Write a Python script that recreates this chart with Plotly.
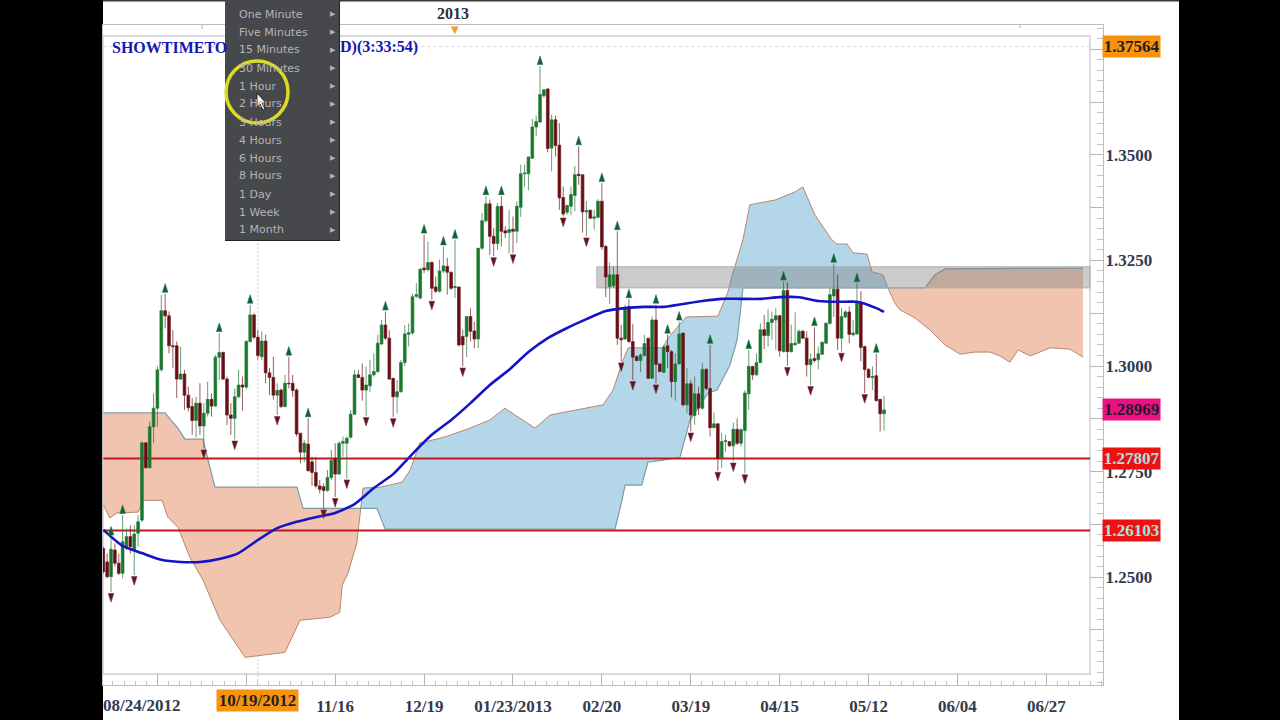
import plotly.graph_objects as go

open_ = [
1.2568,1.2536,1.2501,1.2564,1.2533,1.2509,1.2572,1.2596,1.2564,1.2604,
1.2635,1.2818,1.2759,1.2856,1.2900,1.2991,1.3131,1.3119,1.3048,1.3048,
1.2969,1.2981,1.2931,1.2904,1.2871,1.2912,1.2858,1.2888,1.2921,1.2905,
1.3021,1.3032,1.2969,1.2884,1.2876,1.2927,1.2955,1.2950,1.3058,1.3121,
1.3068,1.3022,1.3059,1.2984,1.2973,1.2931,1.2943,1.2904,1.2959,1.2959,
1.2943,1.2841,1.2796,1.2815,1.2773,1.2748,1.2716,1.2714,1.2705,1.2736,
1.2781,1.2744,1.2817,1.2817,1.2831,1.2886,1.2979,1.2973,1.2943,1.2953,
1.2979,1.2987,1.3052,1.3097,1.3066,1.2971,1.2927,1.2939,1.3008,1.3075,
1.3078,1.3165,1.3161,1.3232,1.3228,1.3245,1.3187,1.3177,1.3225,1.3236,
1.3222,1.3186,1.3187,1.3070,1.3070,1.3117,1.3083,1.3064,1.3279,1.3344,
1.3384,1.3307,1.3290,1.3378,1.3320,1.3316,1.3324,1.3319,1.3376,1.3455,
1.3455,1.3492,1.3566,1.3578,1.3640,1.3656,1.3516,1.3583,1.3523,1.3399,
1.3364,1.3378,1.3404,1.3454,1.3453,1.3365,1.3369,1.3350,1.3352,1.3390,
1.3283,1.3188,1.3190,1.3216,1.3066,1.3064,1.3141,1.3058,1.3022,1.3013,
1.3025,1.3066,1.2971,1.3109,1.3005,1.2985,1.3048,1.3034,1.2963,1.3005,
1.3078,1.2908,1.2958,1.2883,1.2934,1.2900,1.2992,1.2947,1.2854,1.2863,
1.2782,1.2821,1.2821,1.2811,1.2850,1.2817,1.2847,1.2934,1.2999,1.2979,
1.3008,1.3086,1.3072,1.3103,1.3109,1.3119,1.3034,1.3179,1.3034,1.3050,
1.3054,1.3082,1.3066,1.3003,1.3018,1.3015,1.3028,1.3054,1.3101,1.3166,
1.3182,1.3066,1.3116,1.3128,1.3074,1.3076,1.3150,1.3046,1.2992,1.2973,
1.2977,1.2921,1.2887]
high = [
1.2572,1.2556,1.2596,1.2580,1.2556,1.2647,1.2615,1.2623,1.2623,1.2647,
1.2821,1.2820,1.2868,1.2935,1.3000,1.3168,1.3171,1.3129,1.3085,1.3058,
1.3046,1.2991,1.2951,1.2924,1.2927,1.2959,1.2912,1.2963,1.2935,1.3026,
1.3078,1.3034,1.2975,1.2912,1.2947,1.2991,1.2975,1.3062,1.3145,1.3125,
1.3085,1.3082,1.3074,1.2995,1.3022,1.2959,1.2947,1.2979,1.3022,1.2979,
1.2947,1.2841,1.2825,1.2876,1.2785,1.2785,1.2730,1.2722,1.2754,1.2801,
1.2817,1.2821,1.2833,1.2833,1.2896,1.2991,1.2991,1.3006,1.2999,1.3014,
1.3030,1.3074,1.3109,1.3129,1.3085,1.2971,1.2967,1.3014,1.3097,1.3101,
1.3171,1.3196,1.3232,1.3311,1.3295,1.3248,1.3212,1.3252,1.3283,1.3256,
1.3224,1.3299,1.3188,1.3086,1.3117,1.3137,1.3105,1.3279,1.3362,1.3402,
1.3394,1.3327,1.3386,1.3402,1.3331,1.3370,1.3354,1.3390,1.3477,1.3477,
1.3496,1.3585,1.3593,1.3710,1.3656,1.3658,1.3595,1.3593,1.3575,1.3425,
1.3382,1.3425,1.3474,1.3520,1.3453,1.3391,1.3370,1.3370,1.3395,1.3433,
1.3287,1.3245,1.3236,1.3319,1.3098,1.3145,1.3158,1.3100,1.3026,1.3030,
1.3074,1.3066,1.3117,1.3145,1.3007,1.3050,1.3074,1.3038,1.3030,1.3105,
1.3078,1.2995,1.2967,1.2975,1.2951,1.3007,1.2995,1.3050,1.2890,1.2864,
1.2842,1.2837,1.2821,1.2866,1.2876,1.2853,1.2943,1.3038,1.3000,1.3030,
1.3101,1.3121,1.3135,1.3129,1.3137,1.3121,1.3200,1.3198,1.3098,1.3127,
1.3087,1.3086,1.3082,1.3030,1.3092,1.3046,1.3058,1.3103,1.3184,1.3242,
1.3216,1.3137,1.3133,1.3141,1.3109,1.3196,1.3177,1.3048,1.2995,1.2999,
1.3029,1.2921,1.2929]
low = [
1.2509,1.2497,1.2465,1.2525,1.2505,1.2497,1.2564,1.2556,1.2505,1.2572,
1.2631,1.2758,1.2758,1.2817,1.2856,1.2987,1.3089,1.3030,1.2995,1.2924,
1.2967,1.2896,1.2892,1.2837,1.2831,1.2837,1.2805,1.2880,1.2880,1.2904,
1.2967,1.2967,1.2860,1.2837,1.2826,1.2924,1.2894,1.2945,1.3055,1.3063,
1.3016,1.3014,1.2959,1.2931,1.2920,1.2884,1.2900,1.2902,1.2947,1.2927,
1.2833,1.2769,1.2773,1.2750,1.2716,1.2710,1.2698,1.2663,1.2702,1.2730,
1.2690,1.2742,1.2785,1.2734,1.2829,1.2884,1.2971,1.2918,1.2882,1.2939,
1.2975,1.2983,1.3050,1.3062,1.2967,1.2879,1.2888,1.2937,1.3000,1.3046,
1.3074,1.3161,1.3157,1.3220,1.3224,1.3157,1.3173,1.3174,1.3220,1.3169,
1.3180,1.3161,1.3046,1.2999,1.3021,1.3058,1.3042,1.3042,1.3275,1.3340,
1.3263,1.3260,1.3275,1.3283,1.3303,1.3267,1.3267,1.3291,1.3353,1.3425,
1.3416,1.3490,1.3544,1.3575,1.3635,1.3506,1.3461,1.3496,1.3370,1.3354,
1.3358,1.3358,1.3366,1.3429,1.3316,1.3307,1.3349,1.3323,1.3350,1.3275,
1.3163,1.3147,1.3184,1.3050,1.3011,1.3062,1.3054,1.2967,1.3011,1.2985,
1.3022,1.2969,1.2969,1.2959,1.2985,1.2983,1.2995,1.2926,1.2918,1.3003,
1.2904,1.2888,1.2845,1.2861,1.2884,1.2896,1.2943,1.2833,1.2853,1.2752,
1.2758,1.2797,1.2809,1.2774,1.2813,1.2809,1.2746,1.2896,1.2967,1.2977,
1.3007,1.3040,1.3046,1.3062,1.3038,1.3022,1.3032,1.3000,1.3032,1.3050,
1.3053,1.3064,1.2975,1.2955,1.3008,1.2992,1.3026,1.3053,1.3098,1.3116,
1.3038,1.3034,1.3113,1.3054,1.3070,1.3074,1.3011,1.2936,1.2971,1.2943,
1.2916,1.2845,1.2847]
close = [
1.2513,1.2501,1.2566,1.2533,1.2509,1.2584,1.2596,1.2572,1.2602,1.2631,
1.2818,1.2759,1.2856,1.2900,1.2991,1.3131,1.3119,1.3048,1.3046,1.2969,
1.2981,1.2931,1.2901,1.2871,1.2912,1.2858,1.2888,1.2921,1.2905,1.3021,
1.3032,1.2969,1.2884,1.2876,1.2927,1.2955,1.2950,1.3058,1.3121,1.3068,
1.3025,1.3059,1.2984,1.2973,1.2931,1.2942,1.2904,1.2959,1.2958,1.2942,
1.2839,1.2796,1.2817,1.2752,1.2748,1.2716,1.2708,1.2705,1.2736,1.2777,
1.2744,1.2817,1.2821,1.2829,1.2886,1.2979,1.2973,1.2943,1.2955,1.2979,
1.2987,1.3054,1.3097,1.3066,1.2969,1.2927,1.2939,1.3008,1.3076,1.3079,
1.3164,1.3169,1.3229,1.3228,1.3245,1.3184,1.3177,1.3225,1.3237,1.3222,
1.3184,1.3188,1.3050,1.3050,1.3117,1.3082,1.3064,1.3279,1.3344,1.3384,
1.3307,1.3290,1.3378,1.3319,1.3315,1.3323,1.3319,1.3378,1.3455,1.3457,
1.3495,1.3566,1.3579,1.3643,1.3654,1.3515,1.3583,1.3522,1.3398,1.3360,
1.3380,1.3406,1.3453,1.3451,1.3365,1.3368,1.3350,1.3353,1.3390,1.3282,
1.3211,1.3216,1.3216,1.3066,1.3062,1.3137,1.3058,1.3021,1.3013,1.3026,
1.3053,1.2971,1.3109,1.3004,1.2987,1.3045,1.3034,1.2963,1.3005,1.3076,
1.2908,1.2958,1.2884,1.2934,1.2900,1.2992,1.2947,1.2854,1.2863,1.2782,
1.2821,1.2823,1.2811,1.2850,1.2817,1.2849,1.2936,1.2999,1.2979,1.3008,
1.3086,1.3072,1.3103,1.3111,1.3119,1.3036,1.3179,1.3034,1.3053,1.3054,
1.3082,1.3066,1.3003,1.3016,1.3013,1.3029,1.3056,1.3101,1.3169,1.3182,
1.3066,1.3117,1.3128,1.3075,1.3078,1.3149,1.3044,1.2992,1.2973,1.2975,
1.2918,1.2887,1.2896]

fractal_up_bars = [2,5,16,30,38,48,53,73,83,88,91,99,103,113,123,129,133,136,143,146,149,157,167,176,184,189,195,200]
fractal_down_bars = [2,8,26,34,45,57,60,63,68,75,85,93,101,106,119,125,134,137,143,152,159,163,166,177,183,191,197]

ma_bars = [0,5,10,15,20,25,30,35,40,45,50,55,60,65,70,75,80,85,90,95,100,105,110,115,120,125,130,135,140,145,150,155,160,165,170,175,180,185,190,195,200,202]
ma_values = [1.2612,1.2574,1.2557,1.2541,1.2536,1.2536,1.2543,1.2557,1.2588,1.2616,1.2631,1.2642,1.2652,1.2673,
             1.2711,1.2744,1.2792,1.2837,1.2872,1.2912,1.2955,1.2991,1.3033,1.3066,1.3090,1.3111,1.3130,1.3137,
             1.3140,1.3140,1.3147,1.3154,1.3159,1.3159,1.3159,1.3163,1.3163,1.3154,1.3152,1.3152,1.3137,1.3128]

span_a_x = [0,1.7,3.5,9,10.3,15.2,16.7,19.3,22.4,25.8,30.2,36.7,47,50.9,58.7,61.2,61.8,63.3,65.6,66.5,
            67.2,71.6,77.3,79.4,81.9,84,88.4,94.9,100,103.9,107.8,111.7,115.6,119.5,124.6,129.3,131.9,134.2,135.8,
            144.8,146.1,150.8,159,161.6,162.9,165.5,167.3,173.8,178.9,181,184.1,188.5,189.8,192.4,194,197.6,198.9,201.7,203,
            204.8,206.1,210,213.9,217.8,221.7,225.5,229.4,232,234.6,236.7,239.8,245,250.1,253.5]
span_a = [1.2671,1.2640,1.2652,1.2654,1.2682,1.2682,1.2642,1.2618,1.2547,1.2493,1.2398,1.2310,1.2322,1.2398,1.2405,1.2417,1.2481,1.2509,1.2581,1.2663,
          1.2711,1.2713,1.2725,1.2754,1.2818,1.2822,1.2832,1.2853,1.2872,1.2900,1.2877,1.2853,1.2884,1.2891,1.2900,1.2908,1.2943,1.3007,1.3043,
          1.3043,1.3066,1.3116,1.3118,1.3175,1.3220,1.3299,1.3382,1.3393,1.3412,1.3424,1.3358,1.3299,1.3289,1.3289,1.3268,1.3265,1.3223,1.3216,1.3185,
          1.3149,1.3133,1.3114,1.3085,1.3050,1.3028,1.3033,1.3033,1.3024,1.3009,1.3038,1.3024,1.3043,1.3040,1.3021]
span_b_x = [0,16,17.3,19.3,21.1,25.8,27.1,28.9,50.1,51.7,66.5,70.8,72.9,132.4,134.2,135,139.3,140.9,144.8,149.2,151.8,156.5,158.8,162.1,164,165.5,203,212.6,215.2,217.8,253.5]
span_b = [1.2889,1.2889,1.2874,1.2853,1.2827,1.2827,1.2777,1.2713,1.2713,1.2663,1.2663,1.2663,1.2614,1.2614,1.2682,1.2718,1.2718,1.2772,1.2777,1.2784,1.2872,1.2936,1.2943,1.3002,1.3062,1.3185,1.3185,1.3185,1.3216,1.3230,1.3232]
cloud_cross_bars = [0, 66.5, 203, 253.5]
cloud_colors = ["#f0c4ae", "#b3d6e9", "#f0c4ae"]

support_levels = [1.27807, 1.26103]
band_low, band_high = 1.3185, 1.3235
band_start_bar, chart_end_bar = 127.7, 255.3
last_price_level = 1.37564

date_ticks = [14, 37, 60, 83, 106, 129, 152, 175, 198, 221, 244]
date_labels = ["", "", "11/16", "12/19", "01/23/2013", "02/20", "03/19", "04/15", "05/12", "06/04", "06/27"]
price_ticks = [1.2375, 1.25, 1.2625, 1.275, 1.2875, 1.30, 1.3125, 1.325, 1.3375, 1.35, 1.3625, 1.375]
price_labels = ["", "1.2500", "", "1.2750", "", "1.3000", "", "1.3250", "", "1.3500", "", ""]
price_boxes = [("1.37564", 1.37564, "#f7930f", "#1d1d24"), ("1.28969", 1.28969, "#ee1080", "#24182c"),
               ("1.27807", 1.27807, "#ee1111", "#a8e4e0"), ("1.26103", 1.26103, "#ee1111", "#a8e4e0")]
menu_items = ["One Minute", "Five Minutes", "15 Minutes", "30 Minutes", "1 Hour", "2 Hours", "3 Hours",
              "4 Hours", "6 Hours", "8 Hours", "1 Day", "1 Week", "1 Month"]

SERIF = "Liberation Serif"
XR = [-0.08, 258.66]
YR = [1.22446, 1.38075]
fx = lambda px: (px - 103) / 1000
fy = lambda py: 1 - (py - 25) / 660
bars = list(range(len(close)))
fig = go.Figure()

# crosshair (behind everything)
fig.add_trace(go.Scatter(x=[40, 40], y=YR, mode="lines", line=dict(color="#e4e4e4", width=2, dash="2px,2px"), hoverinfo="skip"))
fig.add_trace(go.Scatter(x=[0, chart_end_bar], y=[last_price_level]*2, mode="lines", line=dict(color="#d8d8d8", width=1, dash="3px,3px"), hoverinfo="skip"))

# cloud
for i, col in enumerate(cloud_colors):
    lo, hi = cloud_cross_bars[i], cloud_cross_bars[i + 1]
    ax = [x for x in span_a_x if lo <= x <= hi]
    ay = [y for x, y in zip(span_a_x, span_a) if lo <= x <= hi]
    bx = [x for x in span_b_x if lo <= x <= hi]
    by = [y for x, y in zip(span_b_x, span_b) if lo <= x <= hi]
    fig.add_trace(go.Scatter(x=ax + bx[::-1], y=ay + by[::-1], mode="lines", fill="toself", fillcolor=col,
                             line=dict(width=0), hoverinfo="skip"))
fig.add_trace(go.Scatter(x=span_a_x, y=span_a, mode="lines", line=dict(color="#b9846f", width=1), hoverinfo="skip"))
fig.add_trace(go.Scatter(x=span_b_x, y=span_b, mode="lines", line=dict(color="#7c9da6", width=1.2), hoverinfo="skip"))

# gray resistance band
fig.add_trace(go.Scatter(x=[band_start_bar, chart_end_bar, chart_end_bar, band_start_bar, band_start_bar],
                         y=[band_low, band_low, band_high, band_high, band_low], mode="lines", fill="toself",
                         fillcolor="rgba(130,130,130,0.42)", line=dict(color="#b0b0b0", width=1), hoverinfo="skip"))

# horizontal support lines
for lv in support_levels:
    fig.add_trace(go.Scatter(x=[0, chart_end_bar], y=[lv, lv], mode="lines", line=dict(color="#c4161f", width=2), hoverinfo="skip"))

# candles and overlays sit on an overlaid axis pair so they draw above the filled cloud
fig.add_trace(go.Candlestick(x=bars, open=open_, high=high, low=low, close=close, whiskerwidth=0, xaxis="x2", yaxis="y2",
                             increasing=dict(line=dict(color="rgba(40,115,60,0.7)", width=1), fillcolor="#137a26"),
                             decreasing=dict(line=dict(color="rgba(105,25,30,0.7)", width=1), fillcolor="#6a0d12"),
                             hoverinfo="skip"))

fig.add_trace(go.Scatter(x=ma_bars, y=ma_values, xaxis="x2", yaxis="y2", mode="lines",
                         line=dict(color="#1414c4", width=2.6, shape="spline", smoothing=0.6), hoverinfo="skip"))

fig.add_trace(go.Scatter(x=fractal_up_bars, y=[high[i] + 0.0024 for i in fractal_up_bars], xaxis="x2", yaxis="y2", mode="markers",
                         marker=dict(symbol="arrow", size=9, color="#135f34", line=dict(color="rgba(30,120,70,0.6)", width=1)), hoverinfo="skip"))
fig.add_trace(go.Scatter(x=fractal_down_bars, y=[low[i] - 0.0024 for i in fractal_down_bars], xaxis="x2", yaxis="y2", mode="markers",
                         marker=dict(symbol="arrow", angle=180, size=9, color="#5c1620", line=dict(color="rgba(130,50,60,0.6)", width=1)), hoverinfo="skip"))

shapes = [
    dict(type="rect", xref="paper", yref="paper", x0=fx(103), x1=fx(1179), y0=fy(720), y1=fy(0), fillcolor="white", line_width=0, layer="below"),
    dict(type="rect", xref="paper", yref="paper", x0=fx(103), x1=fx(1179), y0=fy(1.5), y1=fy(0), fillcolor="#3a3a3a", line_width=0, layer="below"),
    dict(type="rect", xref="paper", yref="paper", x0=fx(103), x1=fx(1090), y0=fy(674), y1=fy(36), line=dict(color="#cfcfd2", width=1.5), layer="below"),
    dict(type="line", xref="paper", yref="paper", x0=fx(202), x1=fx(202), y0=fy(29), y1=fy(25), line=dict(color="#b0b0b0", width=1)),
    dict(type="line", xref="paper", yref="paper", x0=fx(1020), x1=fx(1020), y0=fy(28), y1=fy(25), line=dict(color="#b0b0b0", width=1)),
    # timeframe menu
    dict(type="rect", xref="paper", yref="paper", x0=fx(225), x1=fx(340), y0=fy(241), y1=fy(0), fillcolor="#222326", line_width=0),
    dict(type="rect", xref="paper", yref="paper", x0=fx(225), x1=fx(339), y0=fy(240), y1=fy(0), fillcolor="#47484c", line_width=0),
    # highlight circle and cursor
    dict(type="circle", xref="paper", yref="paper", x0=fx(226), x1=fx(288), y0=fy(123), y1=fy(61), line=dict(color="#dcdc26", width=3.5)),
    dict(type="path", xref="paper", yref="paper", fillcolor="white", line=dict(color="#222", width=1),
         path="M {} {} L {} {} L {} {} L {} {} L {} {} L {} {} L {} {} Z".format(
             fx(257), fy(93), fx(257), fy(107), fx(260), fy(104), fx(263), fy(110), fx(265), fy(109), fx(262), fy(103), fx(266), fy(103))),
]

ann = []
def text(s, px, py, size=16, color="#333a50", anchor="center", bold=True, family=SERIF, **kw):
    ann.append(dict(text="<b>%s</b>" % s if bold else s, xref="paper", yref="paper", x=fx(px), y=fy(py), showarrow=False,
                    xanchor=anchor, yanchor="middle", font=dict(family=family, size=size, color=color), **kw))

text("SHOWTIMETO", 110, 47, color="#1616b4", anchor="left")
text("D)(3:33:54)", 338, 47, color="#1616b4", anchor="left")
text("2013", 453, 13, color="#2c2c34")
text("▼", 455, 30, size=10, color="#f0a030", bold=False, family="DejaVu Sans")
text("08/24/2012", 101, 705, size=17, anchor="left")
ann.append(dict(text="<b>10/19/2012</b>", xref="paper", yref="paper", x=fx(257.5), y=fy(700.5), showarrow=False, width=81, height=21,
                xanchor="center", yanchor="middle", bgcolor="#f7930f", borderpad=0, font=dict(family=SERIF, size=17, color="#1f1f26")))
for s, lv, bg, fc in price_boxes:
    ann.append(dict(text="<b>%s</b>" % s, xref="paper", yref="y", x=fx(1131.5), y=lv, showarrow=False, width=57, height=21,
                    xanchor="center", yanchor="middle", bgcolor=bg, borderpad=0, font=dict(family=SERIF, size=17, color=fc)))
for i, s in enumerate(menu_items):
    py = 14 + 18 * i
    text(s, 237, py, size=11, color="#b4b4b6", anchor="left", bold=False, family="DejaVu Sans")
    text("▶", 333, py, size=7, color="#b4b4b6", bold=False, family="DejaVu Sans")

label_font = dict(family=SERIF, size=17, color="#333a50", weight="bold")
fig.update_layout(
    width=1280, height=720, autosize=False, showlegend=False, shapes=shapes, annotations=ann,
    paper_bgcolor="black", plot_bgcolor="rgba(0,0,0,0)", margin=dict(l=103, r=177, t=25, b=35, autoexpand=False),
    boxgap=0.3, boxgroupgap=0,
    xaxis=dict(range=XR, rangeslider=dict(visible=False), showgrid=False, zeroline=False, tickmode="array",
               tickvals=date_ticks, ticktext=date_labels, ticks="inside", ticklen=11, tickcolor="#b4b4ba", tickwidth=1,
               showline=True, linecolor="#bcbcc2", mirror=True, ticklabelstandoff=6, automargin=False,
               tickfont=label_font,
               minor=dict(ticks="inside", ticklen=4, tick0=14, dtick=23 / 8, tickcolor="#c0c0c6", showgrid=False)),
    yaxis=dict(range=YR, side="right", showgrid=False, zeroline=False, tickmode="array",
               tickvals=price_ticks, ticktext=price_labels, ticks="inside", ticklen=13, tickcolor="#b4b4ba", tickwidth=1,
               showline=True, linecolor="#bcbcc2", mirror=True, ticklabelstandoff=-2, automargin=False,
               tickfont=label_font,
               minor=dict(ticks="inside", ticklen=6, tick0=1.25, dtick=0.0025, tickcolor="#c0c0c6", showgrid=False)),
    xaxis2=dict(range=XR, overlaying="x", visible=False, rangeslider=dict(visible=False)),
    yaxis2=dict(range=YR, overlaying="y", visible=False, side="right"),
)
fig.write_html("out.html", config=dict(displayModeBar=False),
               post_script="document.documentElement.style.background='black';document.body.style.margin='0';document.body.style.background='black';document.body.style.overflow='hidden';")
